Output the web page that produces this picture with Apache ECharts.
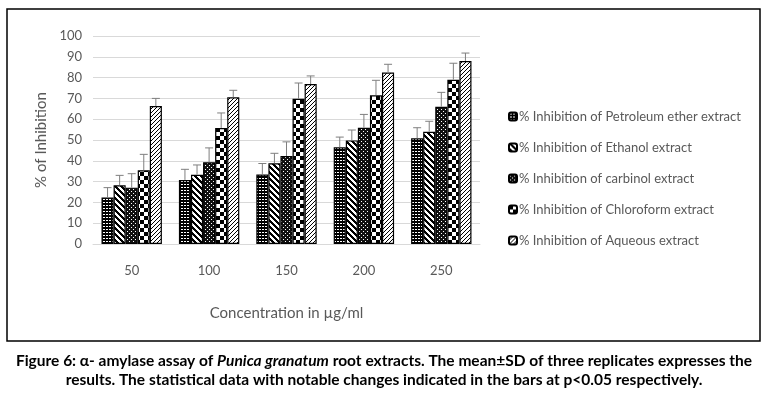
<!DOCTYPE html>
<html>
<head>
<meta charset="utf-8">
<script src="https://cdn.jsdelivr.net/npm/echarts@6/dist/echarts.min.js"></script>
<style>
  html, body { margin: 0; padding: 0; background: #fff; }
  #main { width: 768px; height: 399px; }
</style>
</head>
<body>
<div id="main"></div>
<script>
// concentrations (µg/ml)
var categories = ['50', '100', '150', '200', '250'];
var seriesNames = [
  '% Inhibition of Petroleum ether extract',
  '% Inhibition of Ethanol extract',
  '% Inhibition of carbinol extract',
  '% Inhibition of Chloroform extract',
  '% Inhibition of Aqueous extract'
];
// mean values
var petroleum  = [22.3, 30.8, 33.4, 46.5, 50.8];
var ethanol    = [28.2, 33.3, 38.8, 49.8, 54.0];
var carbinol   = [27.1, 39.3, 42.3, 55.9, 66.0];
var chloroform = [35.4, 55.8, 69.8, 71.5, 79.0];
var aqueous    = [66.3, 70.5, 76.9, 82.4, 88.0];
// SD
var petroleumSd  = [4.8, 5.1, 5.3, 4.9, 5.1];
var ethanolSd    = [4.8, 4.7, 4.8, 5.0, 5.0];
var carbinolSd   = [6.7, 6.9, 6.8, 6.4, 6.9];
var chloroformSd = [7.7, 7.2, 7.6, 7.2, 7.9];
var aqueousSd    = [3.7, 3.4, 3.9, 4.0, 3.8];
var yTicks = [0, 100, 10]; // min, max, step

var means = [petroleum, ethanol, carbinol, chloroform, aqueous];
var sds = [petroleumSd, ethanolSd, carbinolSd, chloroformSd, aqueousSd];

var GAP = 0.22;

// pattern tiles
function tile(w, h, draw) {
  var c = document.createElement('canvas');
  c.width = w; c.height = h;
  var g = c.getContext('2d');
  draw(g, w, h);
  return { image: c, repeat: 'repeat' };
}
var patterns = [
  tile(3, 3, function (g) {
    g.fillStyle = '#000'; g.fillRect(0, 0, 3, 3);
    g.fillStyle = '#fff'; g.fillRect(1, 1, 2, 1);
  }),
  tile(6, 6, function (g) {
    g.fillStyle = '#fff'; g.fillRect(0, 0, 6, 6);
    g.fillStyle = '#000';
    for (var i = -6; i < 12; i++) { g.fillRect(i, i, 3, 1); g.fillRect(i - 6, i, 3, 1); g.fillRect(i + 6, i, 3, 1); }
  }),
  tile(4, 4, function (g) {
    g.fillStyle = '#111'; g.fillRect(0, 0, 4, 4);
    g.fillStyle = '#fff'; g.fillRect(1, 1, 1, 1); g.fillRect(3, 3, 1, 1);
  }),
  tile(8, 8, function (g) {
    g.fillStyle = '#fff'; g.fillRect(0, 0, 8, 8);
    g.fillStyle = '#000'; g.fillRect(0, 0, 4, 4); g.fillRect(4, 4, 4, 4);
  }),
  tile(4, 4, function (g) {
    g.fillStyle = '#fff'; g.fillRect(0, 0, 4, 4);
    g.fillStyle = '#000';
    for (var i = 0; i < 4; i++) { g.fillRect(3 - i, i, 1, 1); }
  })
];

var chart = echarts.init(document.getElementById('main'));

var series = [];
for (var s = 0; s < 5; s++) {
  series.push({
    name: seriesNames[s],
    type: 'bar',
    data: means[s],
    barGap: '0%',
    barCategoryGap: (GAP * 100) + '%',
    itemStyle: { color: patterns[s], borderColor: '#000', borderWidth: 1.2 }
  });
}

// error bars
var errData = [];
for (var s2 = 0; s2 < 5; s2++) {
  for (var i = 0; i < categories.length; i++) {
    errData.push([i, means[s2][i], sds[s2][i], s2]);
  }
}
series.push({
  type: 'custom',
  name: 'err',
  z: 10,
  data: errData,
  encode: { x: 0, y: 1 },
  renderItem: function (params, api) {
    var ci = api.value(0), v = api.value(1), sd = api.value(2), si = api.value(3);
    var band = api.size([1, 0])[0];
    var bw = band * (1 - GAP) / 5;
    var c = api.coord([ci, v]);
    var x = c[0] + (si - 2) * bw;
    var yTop = api.coord([ci, v + sd])[1];
    var yBot = c[1];
    var style = { stroke: '#7f7f7f', lineWidth: 1 };
    return {
      type: 'group',
      children: [
        { type: 'line', shape: { x1: x, y1: yBot, x2: x, y2: yTop }, style: style },
        { type: 'line', shape: { x1: x - 4, y1: yTop, x2: x + 4, y2: yTop }, style: style }
      ]
    };
  }
});

var capStyle = { fontFamily: 'Lato', fontWeight: 'bold', fontSize: 15.5, fill: '#000' };

chart.setOption({
  backgroundColor: '#fff',
  animation: false,
  textStyle: { fontFamily: 'Lato' },
  grid: { left: 93, right: 288, top: 36, bottom: 155 },
  legend: {
    data: seriesNames,
    orient: 'vertical',
    left: 503,
    top: 105,
    itemWidth: 8,
    itemHeight: 8,
    itemGap: 18,
    textStyle: { color: '#595959', fontSize: 13, fontFamily: 'Lato', padding: [0, 0, 0, -3] }
  },
  xAxis: {
    type: 'category',
    data: categories,
    axisTick: { show: false },
    axisLine: { lineStyle: { color: '#d9d9d9' } },
    axisLabel: { color: '#595959', fontSize: 13, margin: 20 },
    name: 'Concentration in µg/ml',
    nameLocation: 'middle',
    nameGap: 62,
    nameTextStyle: { color: '#595959', fontSize: 15 }
  },
  yAxis: {
    type: 'value',
    min: yTicks[0],
    max: yTicks[1],
    interval: yTicks[2],
    axisLine: { show: false },
    axisTick: { show: false },
    axisLabel: { color: '#595959', fontSize: 13, margin: 11 },
    splitLine: { lineStyle: { color: '#d9d9d9' } },
    name: '% of Inhibition',
    nameLocation: 'middle',
    nameGap: 41,
    nameTextStyle: { color: '#595959', fontSize: 15 }
  },
  graphic: [
    {
      type: 'rect',
      shape: { x: 7, y: 9, width: 753, height: 332 },
      style: { fill: 'none', stroke: '#000', lineWidth: 1.5 },
      silent: true
    },
    {
      type: 'text',
      left: 'center',
      top: 353,
      style: {
        text: '{b|Figure 6: α- amylase assay of }{i|Punica granatum}{b| root extracts. The mean±SD of three replicates expresses the}',
        rich: {
          b: capStyle,
          i: { fontFamily: 'Lato', fontWeight: 'bold', fontStyle: 'italic', fontSize: 15.5, fill: '#000' }
        }
      }
    },
    {
      type: 'text',
      left: 'center',
      top: 372,
      style: {
        text: 'results. The statistical data with notable changes indicated in the bars at p<0.05 respectively.',
        font: 'bold 15.5px Lato',
        fill: '#000'
      }
    }
  ],
  series: series
});
</script>
</body>
</html>
